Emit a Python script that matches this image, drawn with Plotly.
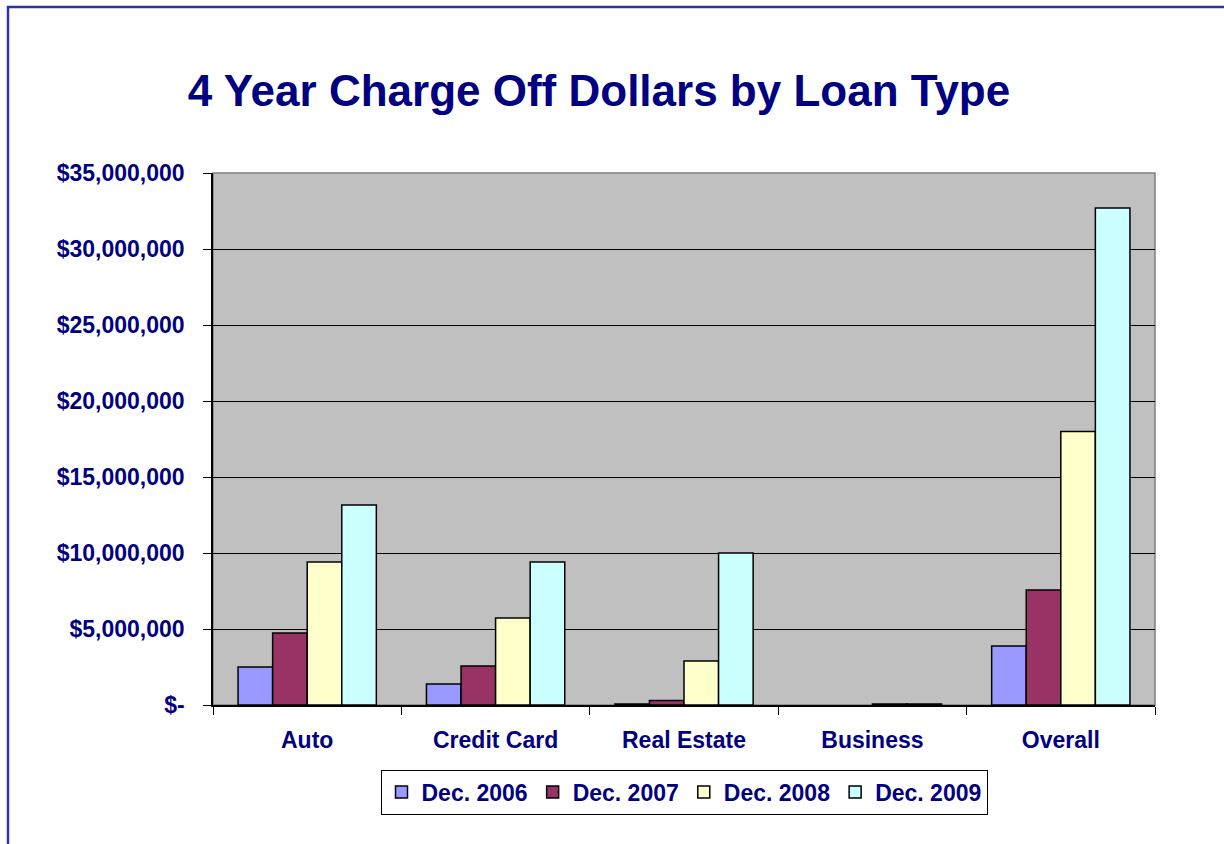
import plotly.graph_objects as go

categories = ["Auto", "Credit Card", "Real Estate", "Business", "Overall"]
series_names = ["Dec. 2006", "Dec. 2007", "Dec. 2008", "Dec. 2009"]
dec_2006 = [2500000, 1380000, 70000, None, 3880000]
dec_2007 = [4740000, 2570000, 300000, None, 7570000]
dec_2008 = [9410000, 5720000, 2900000, 60000, 18000000]
dec_2009 = [13160000, 9410000, 10000000, 60000, 32700000]
series_values = [dec_2006, dec_2007, dec_2008, dec_2009]
colors = ["#9999FF", "#993366", "#FFFFCC", "#CCFFFF"]

tick_vals = [0, 5000000, 10000000, 15000000, 20000000, 25000000, 30000000, 35000000]
tick_text = ["$-", "$5,000,000", "$10,000,000", "$15,000,000", "$20,000,000",
             "$25,000,000", "$30,000,000", "$35,000,000"]

NAVY = "#000080"
FONT = "Liberation Sans, Arial, sans-serif"

fig = go.Figure()
for name, vals, col in zip(series_names, series_values, colors):
    fig.add_trace(go.Bar(
        name="<b>%s</b>" % name, x=categories, y=vals,
        marker=dict(color=col, line=dict(color="#000000", width=1.5)),
    ))

W, H = 1224, 844
L, R, T, B = 213, 69, 173, 139
pw, ph = W - L - R, H - T - B

def px(x):
    return (x - L) / pw

def py(y):
    return (H - B - y) / ph

fig.update_layout(
    width=W, height=H,
    margin=dict(l=L, r=R, t=T, b=B, pad=0),
    paper_bgcolor="#FFFFFF",
    plot_bgcolor="#C0C0C0",
    barmode="group",
    bargap=0.266,
    bargroupgap=0,
    font=dict(family=FONT, color=NAVY),
    title=dict(
        text="<b>4 Year Charge Off Dollars by Loan Type</b>",
        x=599 / W, xanchor="center", xref="container",
        y=1 - 91 / H, yanchor="middle", yref="container",
        font=dict(size=44, family=FONT, color=NAVY),
    ),
    xaxis=dict(
        showline=True, linecolor="#000000", linewidth=1.5,
        ticks="outside", ticklen=8, tickcolor="#000000", tickwidth=1,
        tickson="boundaries",
        tickvals=categories,
        ticktext=["<b>%s</b>" % c for c in categories],
        tickfont=dict(size=23, family=FONT, color=NAVY),
        showgrid=False,
        ticklabelstandoff=14,
    ),
    yaxis=dict(
        range=[0, 35000000],
        tickvals=tick_vals, ticktext=["<b>%s</b>" % t for t in tick_text],
        showline=True, linecolor="#000000", linewidth=1.5,
        ticks="outside", ticklen=8, tickcolor="#000000", tickwidth=1,
        tickfont=dict(size=23, family=FONT, color=NAVY),
        showgrid=True, gridcolor="#000000", gridwidth=1,
        zeroline=False,
        ticklabelstandoff=14,
    ),
    legend=dict(
        orientation="h",
        x=px(684), xanchor="center",
        y=py(792), yanchor="middle",
        font=dict(size=23, family=FONT, color=NAVY),
        bordercolor="#000000", borderwidth=1,
        bgcolor="#FFFFFF",
        itemwidth=30,
        traceorder="normal",
        tracegroupgap=0,
    ),
    showlegend=True,
)

# plot-area outline (grey top/right edges)
fig.add_shape(type="rect", xref="paper", yref="paper", x0=0, y0=0, x1=1, y1=1,
              line=dict(color="#808080", width=1.5), layer="below")
# outer chart frame (left and top edges visible)
fig.add_shape(type="rect", xref="paper", yref="paper",
              x0=px(8), y0=py(860), x1=px(1250), y1=py(7),
              line=dict(color="#333399", width=2.5), fillcolor="rgba(0,0,0,0)")

fig.write_html("out.html",
               config={"displayModeBar": False},
               post_script="document.body.style.margin='0';document.body.style.overflow='hidden';")
